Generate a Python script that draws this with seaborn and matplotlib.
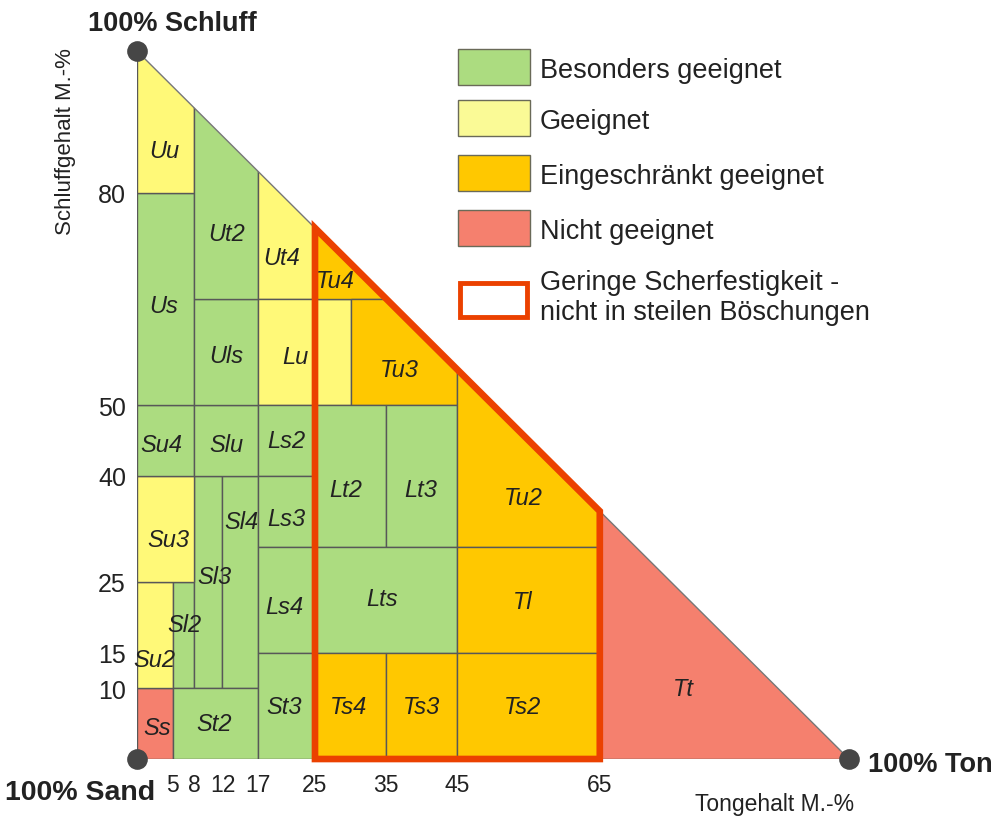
import seaborn as sns
import matplotlib.pyplot as plt
from matplotlib.patches import Rectangle, Polygon

# Bodenarten (KA5): Tongehalt (x) und Schluffgehalt (y) in M.-%
classes = ["Ss", "Su2", "Sl2", "Sl3", "Sl4", "St2", "Su3", "Su4", "Slu", "Us",
           "Uu", "Uls", "Ut2", "Ut4", "Lu", "Ls2", "Ls3", "Ls4", "St3", "Tu4",
           "Tu3", "Lt2", "Lt3", "Tu2", "Lts", "Tl", "Ts4", "Ts3", "Ts2", "Tt"]
clay_min = [0, 0, 5, 8, 12, 5, 0, 0, 8, 0, 0, 8, 8, 17, 17, 17, 17, 17, 17, 25,
            30, 25, 35, 45, 25, 45, 25, 35, 45, 65]
clay_max = [5, 5, 8, 12, 17, 17, 8, 8, 17, 8, 8, 17, 17, 25, 30, 25, 25, 25, 25, 35,
            45, 35, 45, 65, 45, 65, 35, 45, 65, 100]
silt_min = [0, 10, 10, 10, 10, 0, 25, 40, 40, 50, 80, 50, 65, 65, 50, 40, 30, 15, 0, 65,
            50, 30, 30, 30, 15, 15, 0, 0, 0, 0]
silt_max = [10, 25, 25, 40, 40, 10, 40, 50, 50, 80, 100, 65, 100, 100, 65, 50, 40, 30, 15, 100,
            65, 50, 50, 100, 30, 30, 15, 15, 15, 100]
# 0 = besonders geeignet, 1 = geeignet, 2 = eingeschraenkt, 3 = nicht geeignet
suitability = [3, 1, 0, 0, 0, 0, 1, 0, 0, 0, 1, 0, 0, 1, 1, 0, 0, 0, 0, 2,
               2, 0, 0, 2, 0, 2, 2, 2, 2, 3]

categories = ["Besonders geeignet", "Geeignet", "Eingeschränkt geeignet", "Nicht geeignet"]
shear_label = "Geringe Scherfestigkeit -\nnicht in steilen Böschungen"
shear_clay = (25, 65)

clay_ticks = [5, 8, 12, 17, 25, 35, 45, 65]
silt_ticks = [10, 15, 25, 40, 50, 80]

corner_clay = [0, 0, 100]
corner_silt = [0, 100, 0]

# Farben / Layout
cell_colors = ["#ACDC80", "#FFF978", "#FFC800", "#F5806E"]
legend_colors = ["#ACDC80", "#FAFA96", "#FFC800", "#F5806E"]
outline_color = "#EB4100"

label_pos = {
    "Ss": (2.8, 4.5), "Su2": (2.5, 14.0), "Sl2": (6.6, 19.0), "Sl3": (10.9, 25.8),
    "Sl4": (14.6, 33.6), "St2": (10.8, 5.0), "Su3": (4.4, 31.0), "Su4": (3.4, 44.4),
    "Slu": (12.6, 44.4), "Us": (3.8, 64.0), "Uu": (3.8, 86.0), "Uls": (12.6, 57.0),
    "Ut2": (12.6, 74.2), "Ut4": (20.3, 70.8), "Lu": (22.3, 56.8), "Ls2": (21.0, 45.0),
    "Ls3": (21.0, 34.0), "Ls4": (20.7, 21.6), "St3": (20.7, 7.4), "Tu4": (27.8, 67.6),
    "Tu3": (36.8, 55.0), "Lt2": (29.3, 38.0), "Lt3": (39.8, 38.0), "Tu2": (54.2, 37.0),
    "Lts": (34.4, 22.6), "Tl": (54.2, 22.3), "Ts4": (29.7, 7.4), "Ts3": (40.0, 7.4),
    "Ts2": (54.2, 7.4), "Tt": (76.8, 9.9),
}

sns.set_theme(style="white")
plt.rcParams['font.family'] = ['Liberation Sans', 'DejaVu Sans']

W, H = 995, 820
fig = plt.figure(figsize=(W / 100, H / 100), dpi=100)
ax = fig.add_axes([137 / W, 1 - 760 / H, 712 / W, 708 / H])
ax.set_xlim(0, 100)
ax.set_ylim(0, 100)
for s in ax.spines.values():
    s.set_visible(False)


def fx(x):
    return x / W


def fy(y):
    return 1 - y / H


# Dreieck als Clip-Bereich
tri = Polygon([(0, 0), (0, 100), (100, 0)], closed=True, transform=ax.transData,
              facecolor="none", edgecolor="none")
ax.add_patch(tri)

for i, name in enumerate(classes):
    r = Rectangle((clay_min[i], silt_min[i]), clay_max[i] - clay_min[i],
                  silt_max[i] - silt_min[i], facecolor=cell_colors[suitability[i]],
                  edgecolor="#585858", linewidth=1.0, zorder=2)
    ax.add_patch(r)
    r.set_clip_path(tri)
    lx, ly = label_pos[name]
    ax.text(lx, ly, name, ha="center", va="center", fontsize=17, style="italic",
            color="#222222", zorder=5)

# Hypotenuse
ax.plot([0, 100], [100, 0], color="#777777", lw=1.0, zorder=3)

# Bereich geringe Scherfestigkeit
c0, c1 = shear_clay
ax.add_patch(Polygon([(c0, 0), (c0, 100 - c0), (c1, 100 - c1), (c1, 0)], closed=True,
                     facecolor="none", edgecolor=outline_color, linewidth=4.8,
                     joinstyle="miter", zorder=4, clip_on=False))

# Eckpunkte
sns.scatterplot(x=corner_clay, y=corner_silt, ax=ax, s=190, color="#464646",
                edgecolor="#464646", zorder=6, clip_on=False, legend=False)

# Achsenbeschriftung
ax.set_xticks(clay_ticks)
ax.set_xticklabels([str(t) for t in clay_ticks], fontsize=16.5, color="#222222")
ax.set_yticks(silt_ticks)
ax.set_yticklabels([str(t) for t in silt_ticks], fontsize=18, color="#222222")
ax.tick_params(axis="x", length=0, pad=10)
ax.tick_params(axis="y", length=0, pad=8)
ax.set_xlabel("")
ax.set_ylabel("")

fig.text(fx(88), fy(24), "100% Schluff", fontsize=19.5, fontweight="bold",
         ha="left", va="center", color="#222222")
fig.text(fx(5), fy(793), "100% Sand", fontsize=20.5, fontweight="bold",
         ha="left", va="center", color="#222222")
fig.text(fx(868), fy(765), "100% Ton", fontsize=19.5, fontweight="bold",
         ha="left", va="center", color="#222222")
fig.text(fx(695), fy(805), "Tongehalt M.-%", fontsize=16.5, ha="left", va="center",
         color="#222222")
fig.text(fx(66), fy(142), "Schluffgehalt M.-%", fontsize=16, rotation=90,
         ha="center", va="center", color="#222222")

# Legende
box_tops = [50, 101, 156, 211]
for col, lab, top in zip(legend_colors, categories, box_tops):
    fig.add_artist(Rectangle((fx(458), fy(top + 36)), 72 / W, 36 / H,
                             transform=fig.transFigure, facecolor=col,
                             edgecolor="#6a6a58", linewidth=1.0))
    fig.text(fx(540), fy(top + 21), lab, fontsize=19.5, ha="left", va="center",
             color="#222222")
fig.add_artist(Rectangle((fx(460), fy(318)), 67 / W, 34 / H, transform=fig.transFigure,
                         facecolor="white", edgecolor=outline_color, linewidth=3.5,
                         joinstyle="miter"))
fig.text(fx(540), fy(298), shear_label, fontsize=19.5, ha="left", va="center",
         linespacing=1.2, color="#222222")

plt.savefig("out.png", dpi=100)
